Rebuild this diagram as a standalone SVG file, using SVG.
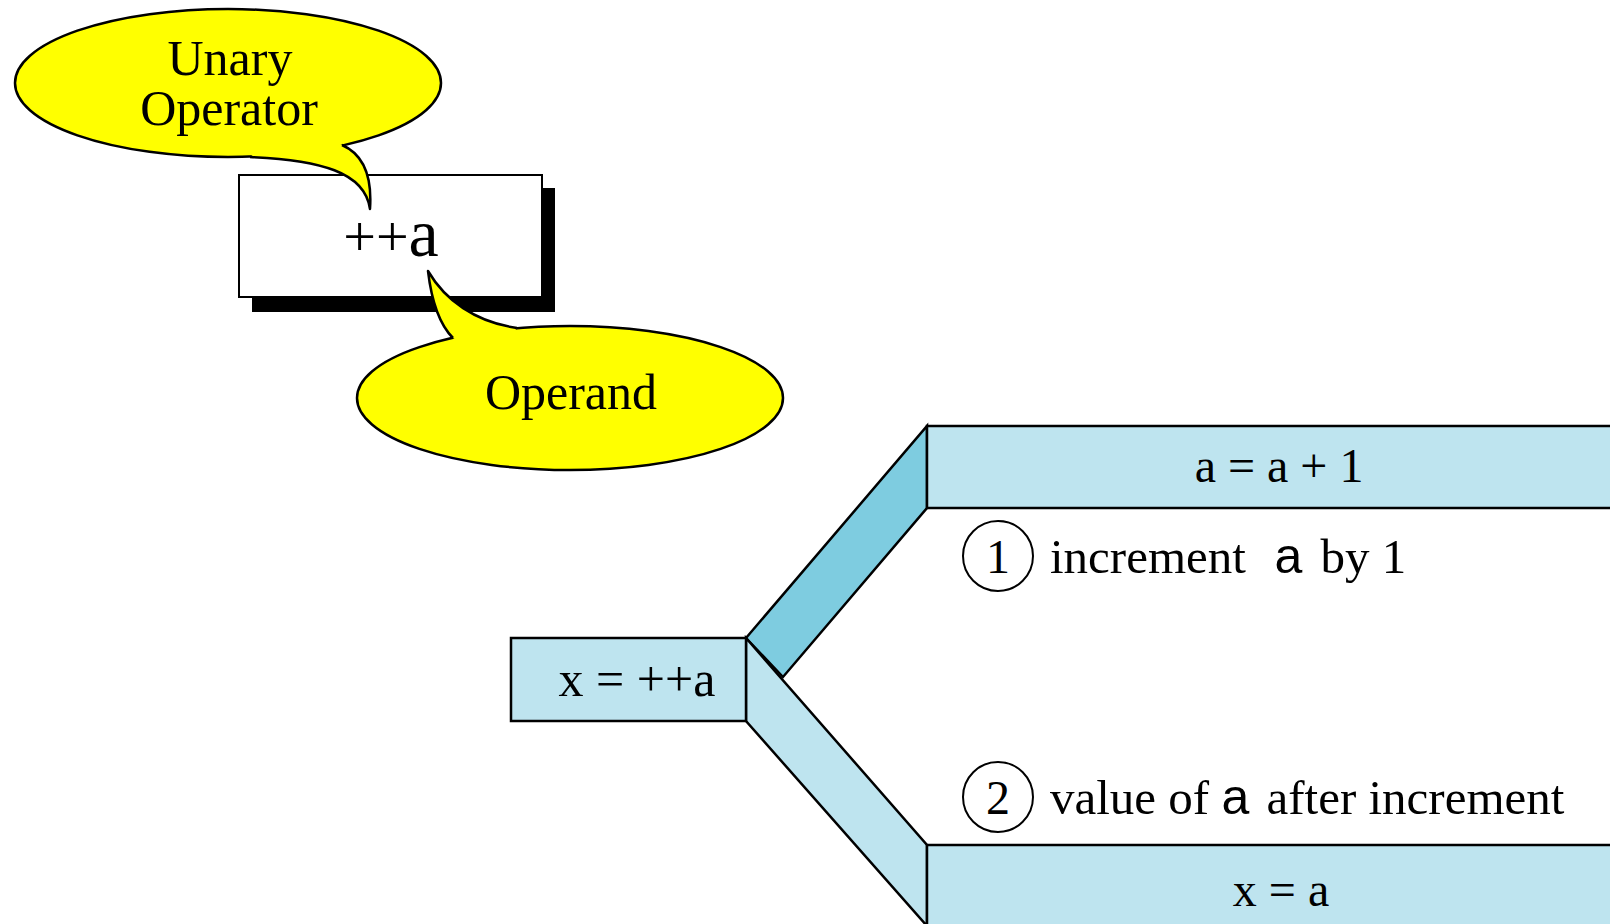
<svg xmlns="http://www.w3.org/2000/svg" width="1610" height="924" viewBox="0 0 1610 924">
<style>
.t{font-family:"Liberation Serif","Times New Roman",serif;fill:#000}
.s{font-family:"Liberation Sans",Arial,sans-serif}
.yel{fill:#FFFF00;stroke:#000;stroke-width:2.5}
.yf{fill:#FFFF00;stroke:none}
.edge{fill:none;stroke:#000;stroke-width:2.5;stroke-linejoin:round}
.lb{fill:#BEE4EF;stroke:#000;stroke-width:2.5;stroke-linejoin:miter}
.db{fill:#7ECCE0;stroke:#000;stroke-width:2.5;stroke-linejoin:miter}
.circ{fill:none;stroke:#000;stroke-width:2}
</style>
<rect width="1610" height="924" fill="#fff"/>

<g id="box-plusplus-a">
  <rect x="252" y="188" width="303" height="124" fill="#000"/>
  <rect x="239" y="175" width="303" height="122" fill="#fff" stroke="#000" stroke-width="2"/>
  <text class="t" x="391" y="256" text-anchor="middle"><tspan font-size="58">++</tspan><tspan font-size="68">a</tspan></text>
</g>

<g id="callout-unary">
  <ellipse class="yel" cx="228" cy="83" rx="213" ry="74"/>
  <path class="yf" d="M250,157 C320,160 365,172 370,209 C372,180 365,155 342,145 L300,120 Z"/>
  <path class="edge" d="M250,157 C320,160 365,172 370,209 C372,180 365,155 342,145"/>
  <text class="t" font-size="50" text-anchor="middle"><tspan x="230" y="75">Unary</tspan><tspan x="229" y="125">Operator</tspan></text>
</g>

<g id="callout-operand">
  <ellipse class="yel" cx="570" cy="398" rx="213" ry="72"/>
  <path class="yf" d="M453,338 C440,325 432,305 428,271 C445,300 475,322 517,328 L490,360 Z"/>
  <path class="edge" d="M453,338 C440,325 432,305 428,271 C445,300 475,322 517,328"/>
  <text class="t" font-size="50" x="571" y="409" text-anchor="middle">Operand</text>
</g>

<g id="connectors">
  <polygon id="band-up" class="db" points="746,638 927,426 927,508 783,677"/>
  <polygon id="band-down" class="lb" points="746,638 927,845 927,926 746,721"/>
</g>

<g id="node-x-eq">
  <rect class="lb" x="511" y="638" width="235" height="83"/>
  <text class="t" font-size="50" x="637" y="696" text-anchor="middle">x = ++a</text>
</g>

<g id="node-a-plus-1">
  <rect class="lb" x="927" y="426" width="700" height="82"/>
  <text class="t" font-size="48" x="1279" y="482" text-anchor="middle">a = a + 1</text>
</g>

<g id="node-x-eq-a">
  <rect class="lb" x="927" y="845" width="700" height="90"/>
  <text class="t" font-size="48" x="1281" y="906" text-anchor="middle">x = a</text>
</g>

<g id="step-1">
  <circle class="circ" cx="998" cy="556" r="35"/>
  <text class="t" font-size="48" x="998" y="573" text-anchor="middle">1</text>
  <text class="t" font-size="49" x="1050" y="573" xml:space="preserve">increment  <tspan class="s" font-size="50" dx="4">a</tspan><tspan dx="6"> by 1</tspan></text>
</g>

<g id="step-2">
  <circle class="circ" cx="998" cy="797" r="35"/>
  <text class="t" font-size="48" x="998" y="814" text-anchor="middle">2</text>
  <text class="t" font-size="49" x="1050" y="814" xml:space="preserve">value of <tspan class="s" font-size="50">a</tspan><tspan dx="5"> after increment</tspan></text>
</g>
</svg>
